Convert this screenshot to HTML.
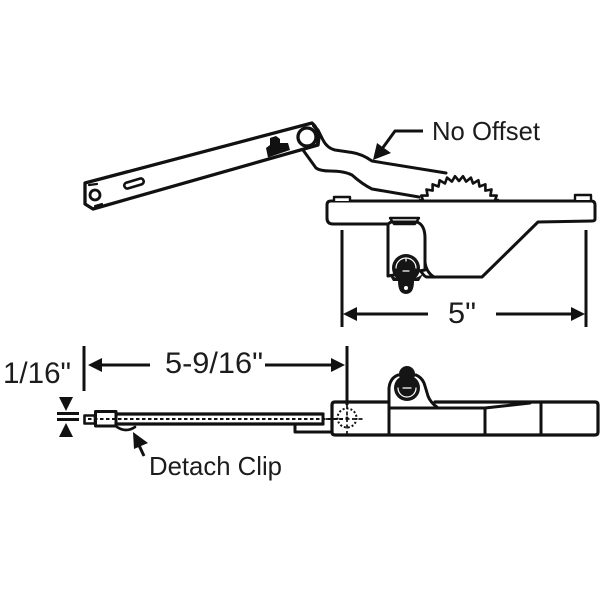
<!DOCTYPE html>
<html>
<head>
<meta charset="utf-8">
<style>
html,body{margin:0;padding:0;background:#fff;width:600px;height:600px;overflow:hidden}
svg{display:block}
text{font-family:"Liberation Sans",Arial,sans-serif;fill:#1c1c1c}
</style>
</head>
<body>
<svg width="600" height="600" viewBox="0 0 600 600" xmlns="http://www.w3.org/2000/svg">
<rect width="600" height="600" fill="#fff"/>
<g fill="none" stroke="#111" stroke-width="3" stroke-linejoin="round" stroke-linecap="round">
  <!-- Gear -->
  <polyline fill="#fff" stroke-width="2.600" points="420,200 423.5,201.5 421.3,195.6 427.6,195.6 426.5,189.5 432.6,190.6 432.6,184.3 438.5,186.5 439.6,180.3 445,183.5 447.1,177.6 451.9,181.6 455,176.2 459,181 463,176.2 466.1,181.6 470.9,177.6 473,183.5 478.4,180.3 479.5,186.5 485.4,184.3 485.4,190.6 491.5,189.5 490.4,195.6 496.7,195.6 494.5,201.5 498,200"/>
  <!-- Link -->
  <path d="M318,130 L323,140 Q327,148 335,150 L352,152.500 Q362,154 372,161 L446,173"/>
  <path d="M303,150 L316,168 Q320,171 330,171 Q344,171 352,175 Q362,184 372,189 L419,197"/>
  <!-- Long arm -->
  <path fill="#fff" stroke-width="3.300" d="M85,183 L312,123 Q318,128 319,137 L318,145 L93,209 L85,204 Z"/>
  <circle cx="307" cy="137" r="9" fill="#fff" stroke-width="3.300"/>
  <path stroke-width="2" d="M313,126 Q321,134 316,146"/>
  <rect x="124" y="180.500" width="20" height="6" rx="3" transform="rotate(-17 134 183.500)" stroke-width="2.600"/>
  <circle cx="95" cy="195" r="5" stroke-width="2.800"/>
  <path stroke-width="2.200" d="M89,185 L97,184 M95,206 L102,204"/>
  <!-- Clip on arm -->
  <path fill="#111" stroke="none" d="M266,148 L270,145 L270,138 L276,136 L280,139 L280,143 L288,143 L290,150 L268,157.500 Z"/>
  <!-- Top base -->
  <path fill="#fff" d="M331,201 L591,201 Q595,201 595,205 L595,219 Q595,221 592,221 L538,222 L482,277 L427,277 Q424,277 419,268 L388,268 L388,224 L333,224 Q327,224 327,218 L327,205 Q327,201 331,201 Z"/>
  <path fill="#fff" stroke-width="2.400" d="M334,201 L334,197 L350,197 L350,201 M575,200 L575,195 L591,195 L591,200"/>
  <!-- Bracket -->
  <path fill="#fff" d="M388,224 L388,276 L425,270 L425,238 Q425,225 417,222 L391,222 Z"/>
  <path stroke-width="2.400" d="M390,218 L419,218 L415,224 L394,224 Z"/>
  <path d="M425,262 Q426,272 434,277"/>
  <circle cx="406" cy="268" r="14" fill="#151515" stroke="none"/>
  <path stroke="#fff" stroke-width="1.200" fill="none" d="M396,268 A10,10 0 0 1 416,268"/>
  <path stroke="#fff" stroke-width="1.200" d="M403,271 L409,271 M406,258 L406,261"/>
  <path fill="#151515" stroke="none" d="M389,274 Q406,286 423,274 L419,281 L414,281 Q414,294 406,294 Q398,294 398,281 L393,281 Z"/>
  <circle cx="406" cy="288" r="2" fill="#fff" stroke="none"/>
  <!-- Bottom assembly: thin arm -->
  <path stroke-width="3.200" d="M116,414 L323,414 M116,424 L323,424"/>
  <path stroke-width="2" stroke-dasharray="3.500 2.500" stroke-linecap="butt" d="M88,419 L343,419"/>
  <rect x="84.500" y="415.500" width="10.500" height="8" stroke-width="2.600"/>
  <rect x="95.500" y="411.500" width="20.500" height="14.500" stroke-width="3"/>
  <path d="M117,427 Q126,433 135,427" stroke-width="2.600"/>
  <path d="M323,414 L323,424 M295,425 L295,432 L332,432"/>
  <!-- Bottom body -->
  <path stroke-width="3.200" d="M389,402 L335,402 Q332,402 332,405 L332,432 Q332,435 335,435 L595,435 Q598,435 598,432 L598,405 Q598,402 595,402 L435,402"/>
  <path fill="#fff" d="M389,403 L389,388 Q390,378 398,375 L416,375 Q423,378 425,386 L428,396 Q430,402 438,408 L389,408 Z"/>
  <path stroke-width="3" d="M389,403 L389,435 M485,408 L485,435 M541,403 L541,435 M389,408 L485,408 M485,408 L530,403"/>
  <circle cx="407" cy="388" r="13" fill="#151515" stroke="none"/>
  <circle cx="407" cy="374" r="8" fill="#151515" stroke="none"/>
  <path stroke="#fff" stroke-width="1.200" d="M398,388 A9,9 0 0 0 416,388 M403,388 L411,388"/>
  <!-- Dotted pivot -->
  <circle cx="347" cy="418" r="9.500" stroke-width="2" stroke-dasharray="2 2" stroke-linecap="butt"/>
  <path stroke-width="1.700" stroke-dasharray="4 2.500" stroke-linecap="butt" d="M326,419 L363,419 M347,405 L347,434"/>
  <circle cx="347" cy="418" r="1.500" fill="#111" stroke="none"/>
  <!-- Dimensions -->
  <g stroke-linecap="butt" stroke-width="3">
    <path d="M342,230 L342,327 M586,230 L586,327"/>
    <path d="M352,314 L428,314 M496,314 L576,314"/>
    <path d="M84,346 L84,391"/>
    <path d="M347,346 L347,405"/>
    <path d="M98,365 L150,365 M265,365 L336,365"/>
    <path d="M57,413.500 L79,413.500 M57,419.500 L79,419.500"/>
    <path d="M423,131 L395,131 L379,153"/>
    <path d="M144,456 L137,441"/>
  </g>
</g>
<g fill="#111" stroke="none">
  <polygon points="343,314 357,307 357,321"/>
  <polygon points="585,314 571,307 571,321"/>
  <polygon points="88,365 102,358 102,372"/>
  <polygon points="345,365 331,358 331,372"/>
  <polygon points="59,397 73,397 66,411"/>
  <polygon points="59,437 73,437 66,423"/>
  <polygon points="373,160 377,143 391,153"/>
  <polygon points="133,432 148,443 134,449"/>
</g>
<text x="432" y="140" font-size="26" textLength="108" lengthAdjust="spacingAndGlyphs">No Offset</text>
<text x="448" y="323" font-size="30" textLength="28" lengthAdjust="spacingAndGlyphs">5"</text>
<text x="165" y="373" font-size="30" textLength="98" lengthAdjust="spacingAndGlyphs">5-9/16"</text>
<text x="3" y="383" font-size="30" textLength="68" lengthAdjust="spacingAndGlyphs">1/16"</text>
<text x="149" y="475" font-size="26" textLength="133" lengthAdjust="spacingAndGlyphs">Detach Clip</text>
</svg>
</body>
</html>
